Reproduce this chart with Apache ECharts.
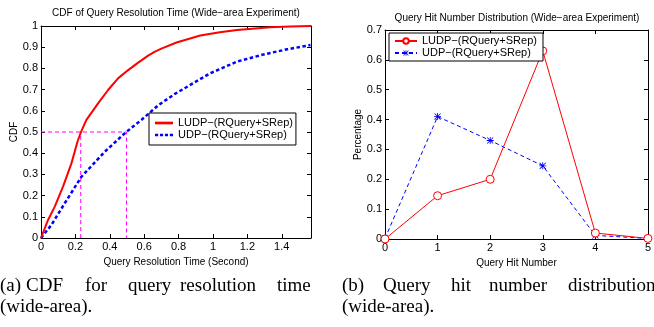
<!DOCTYPE html>
<html>
<head>
<meta charset="utf-8">
<script src="https://cdn.jsdelivr.net/npm/echarts@6/dist/echarts.min.js"></script>
<style>
  html, body { margin: 0; padding: 0; background: #fff; }
  #main { width: 654px; height: 327px; }
</style>
</head>
<body>
<div id="main"></div>
<script>
// (a) CDF of query resolution time, [seconds, cdf]
var ludpCdf = [[0,0],[0.041,0.085],[0.08,0.148],[0.128,0.242],[0.177,0.352],[0.212,0.454],[0.231,0.497],[0.264,0.557],[0.332,0.635],[0.39,0.698],[0.448,0.753],[0.507,0.792],[0.565,0.827],[0.623,0.86],[0.66,0.878],[0.70,0.893],[0.788,0.922],[0.926,0.955],[1.04,0.971],[1.14,0.981],[1.334,0.994],[1.45,0.998],[1.57,1.0]];
var udpCdf = [[0,0],[0.06,0.061],[0.138,0.164],[0.235,0.289],[0.371,0.407],[0.491,0.497],[0.584,0.557],[0.68,0.625],[0.779,0.68],[0.868,0.722],[0.984,0.777],[1.14,0.832],[1.295,0.866],[1.431,0.89],[1.567,0.91]];
var guideY = 0.5;
var guideX = [0.231, 0.497];

// (b) query hit number distribution
var hitNumbers = [0, 1, 2, 3, 4, 5];
var ludpHits = [0.0, 0.145, 0.2, 0.63, 0.02, 0.002];
var udpHits = [0.002, 0.41, 0.33, 0.245, 0.012, 0.002];

var seriesNames = ['LUDP\u2212(RQuery+SRep)', 'UDP\u2212(RQuery+SRep)'];
var leftTitle = 'CDF of Query Resolution Time (Wide\u2212area Experiment)';
var rightTitle = 'Query Hit Number Distribution (Wide\u2212area Experiment)';
var capA = ['(a)', 'CDF', 'for', 'query', 'resolution', 'time'];
var capAx = [0, 26, 85, 128, 180, 277];
var capB = ['(b)', 'Query', 'hit', 'number', 'distribution'];
var capBx = [342, 383, 451, 489, 568];
var capLine2 = '(wide-area).';

var FONT = 'Liberation Sans, Arial, Helvetica, sans-serif';
var SERIF = 'Liberation Serif, Times New Roman, serif';
var asterisk = 'path://M4.4 0L5.6 0L5.6 10L4.4 10ZM0 4.4L10 4.4L10 5.6L0 5.6ZM1.1 0.3L9.7 8.9L8.9 9.7L0.3 1.1ZM8.9 0.3L9.7 1.1L1.1 9.7L0.3 8.9Z';
var solidIcon = 'path://M0 0L20 0L20 3L0 3Z';
var dashIcon = 'path://M0 0L3.5 0L3.5 3L0 3ZM5.5 0L9 0L9 3L5.5 3ZM11 0L14.5 0L14.5 3L11 3ZM16.5 0L20 0L20 3L16.5 3Z';

function xAx(grid, pos, min, max, interval, name, labels) {
  return {
    type: 'value', gridIndex: grid, position: pos, min: min, max: max, interval: interval,
    name: labels ? name : '', nameLocation: 'middle', nameGap: 12,
    nameTextStyle: { fontFamily: FONT, fontSize: 10, color: '#000' },
    axisLine: { show: true, onZero: false, lineStyle: { color: '#000', width: 1 } },
    axisTick: { show: true, inside: true, length: 4, lineStyle: { color: '#000' } },
    axisLabel: { show: labels, showMaxLabel: interval === 1, margin: 3, fontFamily: FONT, fontSize: 11, color: '#000' },
    splitLine: { show: false }
  };
}
function yAx(grid, pos, min, max, interval, name, gap, labels) {
  return {
    type: 'value', gridIndex: grid, position: pos, min: min, max: max, interval: interval,
    name: labels ? name : '', nameLocation: 'middle', nameGap: gap,
    nameTextStyle: { fontFamily: FONT, fontSize: 10, color: '#000' },
    axisLine: { show: true, onZero: false, lineStyle: { color: '#000', width: 1 } },
    axisTick: { show: true, inside: true, length: 4, lineStyle: { color: '#000' } },
    axisLabel: { show: labels, margin: 3, fontFamily: FONT, fontSize: 11, color: '#000' },
    splitLine: { show: false }
  };
}

// caption words are laid out one by one to copy the justified text
function word(text, x, y) {
  return { type: 'text', x: x, y: y, style: { text: text, font: '19px ' + SERIF, fill: '#000', textVerticalAlign: 'middle' } };
}

var graphics = [
  { type: 'text', x: 176, y: 13, style: { text: leftTitle, font: '10px ' + FONT, fill: '#000', textAlign: 'center', textVerticalAlign: 'middle' } },
  { type: 'text', x: 517, y: 18, style: { text: rightTitle, font: '10px ' + FONT, fill: '#000', textAlign: 'center', textVerticalAlign: 'middle' } },
  word(capLine2, 0, 307),
  word(capLine2, capBx[0], 307)
];
capA.forEach(function (w, i) { graphics.push(word(w, capAx[i], 286)); });
capB.forEach(function (w, i) { graphics.push(word(w, capBx[i], 286)); });

var legendBase = {
  orient: 'vertical', itemGap: 0, itemWidth: 20, itemHeight: 8,
  borderColor: '#000', borderWidth: 1, backgroundColor: '#fff',
  textStyle: { fontFamily: FONT, fontSize: 11, color: '#000', lineHeight: 12 }
};

var myChart = echarts.init(document.getElementById('main'));
myChart.setOption({
  backgroundColor: '#fff',
  animation: false,
  textStyle: { fontFamily: FONT },
  graphic: graphics,
  grid: [
    { left: 41, top: 26, width: 270, height: 212 },
    { left: 385, top: 30, width: 265, height: 209 }
  ],
  xAxis: [
    xAx(0, 'bottom', 0, 1.57, 0.2, 'Query Resolution Time (Second)', true),
    xAx(0, 'top', 0, 1.57, 0.2, '', false),
    xAx(1, 'bottom', 0, 5, 1, 'Query Hit Number', true),
    xAx(1, 'top', 0, 5, 1, '', false)
  ],
  yAxis: [
    yAx(0, 'left', 0, 1, 0.1, 'CDF', 21, true),
    yAx(0, 'right', 0, 1, 0.1, '', 0, false),
    yAx(1, 'left', 0, 0.7, 0.1, 'Percentage', 20, true),
    yAx(1, 'right', 0, 0.7, 0.1, '', 0, false)
  ],
  legend: [
    Object.assign({}, legendBase, {
      data: [
        { name: seriesNames[0], icon: solidIcon, itemStyle: { color: '#ff0000' } },
        { name: seriesNames[1], icon: dashIcon, itemStyle: { color: '#0000ff' } }
      ],
      itemHeight: 3, itemWidth: 18,
      left: 149, top: 113, padding: [4, 3, 4, 6]
    }),
    Object.assign({}, legendBase, {
      data: [seriesNames[0] + ' ', seriesNames[1] + ' '],
      itemWidth: 22, itemHeight: 7,
      left: 389, top: 33, padding: [2, 3, 2, 5]
    })
  ],
  series: [
    {
      name: 'guide-h', type: 'line', xAxisIndex: 0, yAxisIndex: 0, symbol: 'none', silent: true,
      data: [[0, guideY], [guideX[1], guideY], [guideX[1], 0]],
      lineStyle: { color: '#ff00ff', width: 1, type: [4, 3] }, z: 1
    },
    {
      name: 'guide-v', type: 'line', xAxisIndex: 0, yAxisIndex: 0, symbol: 'none', silent: true,
      data: [[guideX[0], 0], [guideX[0], guideY]],
      lineStyle: { color: '#ff00ff', width: 1, type: [4, 3] }, z: 1
    },
    {
      name: seriesNames[0], type: 'line', xAxisIndex: 0, yAxisIndex: 0, symbol: 'none',
      data: ludpCdf, itemStyle: { color: '#ff0000' },
      lineStyle: { color: '#ff0000', width: 2 }, z: 3
    },
    {
      name: seriesNames[1], type: 'line', xAxisIndex: 0, yAxisIndex: 0, symbol: 'none',
      data: udpCdf, itemStyle: { color: '#0000ff' },
      lineStyle: { color: '#0000ff', width: 2.5, type: [3.5, 2.5] }, z: 2
    },
    {
      name: seriesNames[0] + ' ', type: 'line', xAxisIndex: 2, yAxisIndex: 2,
      symbol: 'circle', symbolSize: 8,
      data: hitNumbers.map(function (x, i) { return [x, ludpHits[i]]; }),
      itemStyle: { color: '#ffffff', borderColor: '#ff0000', borderWidth: 1 },
      lineStyle: { color: '#ff0000', width: 1 }, z: 3
    },
    {
      name: seriesNames[1] + ' ', type: 'line', xAxisIndex: 2, yAxisIndex: 2,
      symbol: asterisk, symbolSize: 7,
      data: hitNumbers.map(function (x, i) { return [x, udpHits[i]]; }),
      itemStyle: { color: '#0000ff' },
      lineStyle: { color: '#0000ff', width: 1, type: [4, 3] }, z: 2
    }
  ]
});
</script>
</body>
</html>
